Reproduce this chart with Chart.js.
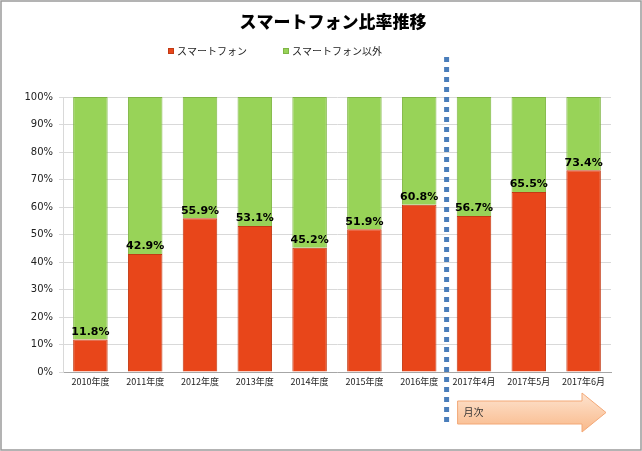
<!DOCTYPE html>
<html>
<head>
<meta charset="utf-8">
<script src="https://cdn.jsdelivr.net/npm/chart.js@4.4.1/dist/chart.umd.min.js"></script>
<style>
  body{margin:0;background:#fff}
  #wrap{width:642px;height:451px;position:relative}
</style>
</head>
<body>
<div id="wrap"><canvas id="myGraph" width="642" height="451"></canvas></div>
<script>
const labels=['2010年度','2011年度','2012年度','2013年度','2014年度','2015年度','2016年度','2017年4月','2017年5月','2017年6月']
const smartphone=[11.8,42.9,55.9,53.1,45.2,51.9,60.8,56.7,65.5,73.4]
const others=smartphone.map(v=>+(100-v).toFixed(1))
const seriesNames=['スマートフォン','スマートフォン以外']
const chartTitle='スマートフォン比率推移'
const monthlyStart=7   // first monthly category
const arrowText='月次'

const RED='#E8461A'
const GREEN='#98D358'

// percentage labels above the red bars
const valueLabels={
    id:'valueLabels',
    afterDatasetsDraw(chart){
        const ctx=chart.ctx
        const meta=chart.getDatasetMeta(0)
        ctx.save()
        ctx.font='bold 11px "DejaVu Sans"'
        ctx.fillStyle='#000'
        ctx.textAlign='center'
        ctx.textBaseline='bottom'
        meta.data.forEach((bar,i)=>{
            ctx.fillText(smartphone[i].toFixed(1)+'%',bar.x,bar.y-2)
        })
        ctx.restore()
    }
}

// title, dotted divider, "月次" arrow, legend, frame
const extras={
    id:'extras',
    afterDraw(chart){
        const ctx=chart.ctx
        const x=chart.scales.x
        const area=chart.chartArea
        const step=x.getPixelForValue(1)-x.getPixelForValue(0)
        const divX=x.getPixelForValue(monthlyStart)-step/2
        ctx.save()

        // title
        ctx.fillStyle='#000'
        ctx.font='900 17px "Noto Sans CJK JP"'
        ctx.textAlign='center'
        ctx.textBaseline='middle'
        ctx.fillText(chartTitle,333,22)

        // dotted line
        ctx.strokeStyle='#4A7EBB'
        ctx.lineWidth=5
        ctx.setLineDash([5,5])
        ctx.beginPath()
        ctx.moveTo(divX,57)
        ctx.lineTo(divX,424)
        ctx.stroke()
        ctx.setLineDash([])

        // arrow
        const left=divX+11, right=area.right-5, head=right-24
        const top=401, bottom=424, cy=(top+bottom)/2
        const g=ctx.createLinearGradient(0,393,0,432)
        g.addColorStop(0,'#FDE3CF')
        g.addColorStop(1,'#F9B98A')
        ctx.beginPath()
        ctx.moveTo(left,top)
        ctx.lineTo(head,top)
        ctx.lineTo(head,393)
        ctx.lineTo(right,cy)
        ctx.lineTo(head,432)
        ctx.lineTo(head,bottom)
        ctx.lineTo(left,bottom)
        ctx.closePath()
        ctx.fillStyle=g
        ctx.fill()
        ctx.strokeStyle='#F3A877'
        ctx.lineWidth=1
        ctx.stroke()
        ctx.fillStyle='#333'
        ctx.font='10px "Noto Sans CJK JP"'
        ctx.textAlign='left'
        ctx.fillText(arrowText,left+6,cy)

        // legend
        const lx=[168,283]
        chart.data.datasets.forEach((ds,i)=>{
            ctx.fillStyle=ds.backgroundColor
            ctx.fillRect(lx[i],48,6,6)
            ctx.strokeStyle=ds.borderColor
            ctx.strokeRect(lx[i]+0.5,48.5,5,5)
            ctx.fillStyle='#222'
            ctx.fillText(ds.label,lx[i]+9,51)
        })

        // outer frame
        ctx.strokeStyle='#9A9A9A'
        ctx.lineWidth=1.5
        ctx.strokeRect(1,1,chart.width-2,chart.height-2)
        ctx.restore()
    }
}

let myGraph=document.getElementById('myGraph').getContext('2d')
let chart=new Chart(myGraph,{
    type:'bar',
    data:{
        labels:labels,
        datasets:[{
            label:seriesNames[0],
            data:smartphone,
            backgroundColor:RED,
            borderColor:'#C23A14',
            borderWidth:1,
            barPercentage:0.63,
            categoryPercentage:1
        },{
            label:seriesNames[1],
            data:others,
            backgroundColor:GREEN,
            borderColor:'#7FB545',
            borderWidth:1,
            barPercentage:0.63,
            categoryPercentage:1
        }]
    },
    plugins:[valueLabels,extras],
    options:{
        responsive:false,
        animation:false,
        layout:{padding:{left:0,right:31,top:97,bottom:0}},
        plugins:{
            legend:{display:false},
            tooltip:{enabled:false},
            title:{display:false}
        },
        scales:{
            x:{
                stacked:true,
                grid:{display:false,drawTicks:false},
                border:{color:'#A6A6A6'},
                ticks:{
                    color:'#222',
                    font:{family:'"Noto Sans CJK JP"',size:9},
                    padding:4,
                    maxRotation:0,
                    autoSkip:false
                },
                afterFit(scale){scale.height=79}
            },
            y:{
                stacked:true,
                min:0,
                max:100,
                grid:{color:'#D9D9D9',tickLength:4},
                border:{color:'#D9D9D9'},
                ticks:{
                    stepSize:10,
                    color:'#222',
                    font:{family:'"DejaVu Sans"',size:10},
                    padding:6,
                    callback:v=>v+'%'
                },
                afterFit(scale){scale.width=63}
            }
        }
    }
})
</script>
</body>
</html>
